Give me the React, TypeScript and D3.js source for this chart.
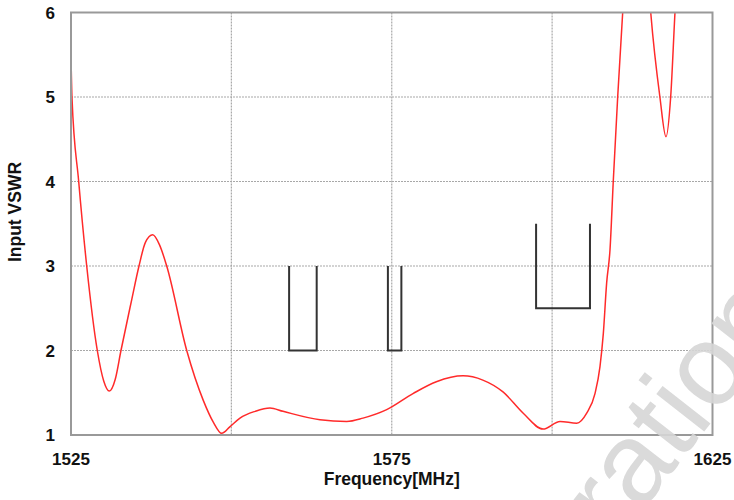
import React from "react";
import * as d3 from "d3";

const freqMHz = [
  1525.0, 1525.15, 1526.2, 1527.45, 1529.1, 1530.1, 1530.97, 1531.9, 1532.79, 1534.46,
  1535.6, 1536.6, 1537.74, 1538.8, 1539.92, 1543.04, 1545.62, 1547.2, 1548.49, 1549.8,
  1551.34, 1553.7, 1556.02, 1558.05, 1563.81, 1567.98, 1570.52, 1574.21, 1578.31, 1581.95,
  1586.11, 1589.2, 1592.34, 1595.46, 1598.58, 1601.23, 1603.83, 1605.39, 1606.68, 1607.46,
  1607.98, 1608.5, 1609.02, 1609.53, 1610.22, 1611.0, 1612.0, 1613.5, 1614.6, 1615.37,
  1616.8, 1617.75, 1618.48, 1619.15, 1619.9,
];
const vswr = [
  5.48, 5.0, 4.0, 3.0, 2.0, 1.64, 1.52, 1.66, 2.0, 2.6,
  3.0, 3.28, 3.37, 3.25, 3.0, 2.0, 1.41, 1.15, 1.02, 1.1,
  1.2, 1.28, 1.32, 1.28, 1.18, 1.16, 1.2, 1.3, 1.49, 1.63,
  1.7, 1.65, 1.51, 1.26, 1.07, 1.16, 1.14, 1.26, 1.49, 1.81,
  2.2, 2.8, 3.19, 4.0, 5.0, 6.0, 6.9, 7.2, 6.8, 6.0,
  5.0, 4.53, 5.0, 6.0, 7.0,
];

// spec windows (Beidou B1, GPS L1, GLONASS L1)
const bandLow = [1559.0, 1574.4, 1597.5];
const bandHigh = [1563.3, 1576.5, 1605.9];
const bandMin = [2, 2, 2.5];
const bandMax = [3, 3, 3.5];

const xTickLabels = [1525, 1575, 1625];
const xGrid = [1550, 1575, 1600];
const yTicks = [1, 2, 3, 4, 5, 6];
const yGrid = [2, 3, 4, 5];

const W = 734;
const H = 500;
const margin = { top: 12.5, right: 21.5, bottom: 65, left: 71 };

export default function App() {
  const x = d3.scaleLinear().domain([1525, 1625]).range([margin.left, W - margin.right]);
  const y = d3.scaleLinear().domain([1, 6]).range([H - margin.bottom, margin.top]);

  const pts: [number, number][] = freqMHz.map((f, i) => [f, vswr[i]]);
  const line = d3
    .line<[number, number]>()
    .x((d) => x(d[0]))
    .y((d) => y(d[1]))
    .curve(d3.curveMonotoneX);

  const font = "'Liberation Sans', Arial, sans-serif";
  const x0 = x(1525), x1 = x(1625), y0 = y(1), y1 = y(6);

  return (
    <svg
      width={W}
      height={H}
      style={{ position: "absolute", left: 0, top: 0, background: "#fff" }}
      fontFamily={font}
    >
      <defs>
        <clipPath id="plot">
          <rect x={x0} y={y1} width={x1 - x0} height={y0 - y1} />
        </clipPath>
      </defs>

      {/* grid */}
      {xGrid.map((g) => (
        <line key={"gx" + g} x1={x(g)} x2={x(g)} y1={y1} y2={y0}
          stroke="#a8a8a8" strokeWidth={1.2} strokeDasharray="2,1" />
      ))}
      {yGrid.map((g) => (
        <line key={"gy" + g} x1={x0} x2={x1} y1={y(g)} y2={y(g)}
          stroke="#a8a8a8" strokeWidth={1.2} strokeDasharray="2,1" />
      ))}

      {/* spec windows */}
      {bandLow.map((lo, i) => (
        <path
          key={"b" + i}
          d={`M${x(lo)},${y(bandMax[i])}V${y(bandMin[i])}H${x(bandHigh[i])}V${y(bandMax[i])}`}
          fill="none"
          stroke="#333"
          strokeWidth={2}
        />
      ))}

      {/* curve */}
      <path d={line(pts) ?? ""} fill="none" stroke="#ff2a2a" strokeWidth={1.5} clipPath="url(#plot)" />

      {/* frame */}
      <rect x={x0} y={y1} width={x1 - x0} height={y0 - y1} fill="none" stroke="#999" strokeWidth={2} />

      {/* tick labels */}
      {yTicks.map((t) => (
        <text key={"yt" + t} x={55} y={y(t)} dy="0.36em" textAnchor="end"
          fontSize={17} fontWeight="bold" fill="#111">
          {t}
        </text>
      ))}
      {xTickLabels.map((t) => (
        <text key={"xt" + t} x={x(t)} y={465} textAnchor="middle"
          fontSize={17} fontWeight="bold" fill="#111">
          {t}
        </text>
      ))}

      <text x={(x0 + x1) / 2} y={485} textAnchor="middle" fontSize={17.5} fontWeight="bold" fill="#111">
        Frequency[MHz]
      </text>
      <text transform={`translate(21,${212}) rotate(-90)`} textAnchor="middle"
        fontSize={17.5} fontWeight="bold" fill="#111">
        Input VSWR
      </text>

      {/* watermark */}
      <text transform="translate(424,790) rotate(-52)" fontSize={115} fill="#d6d6d6" opacity={0.9}>
        Corporation
      </text>
    </svg>
  );
}
